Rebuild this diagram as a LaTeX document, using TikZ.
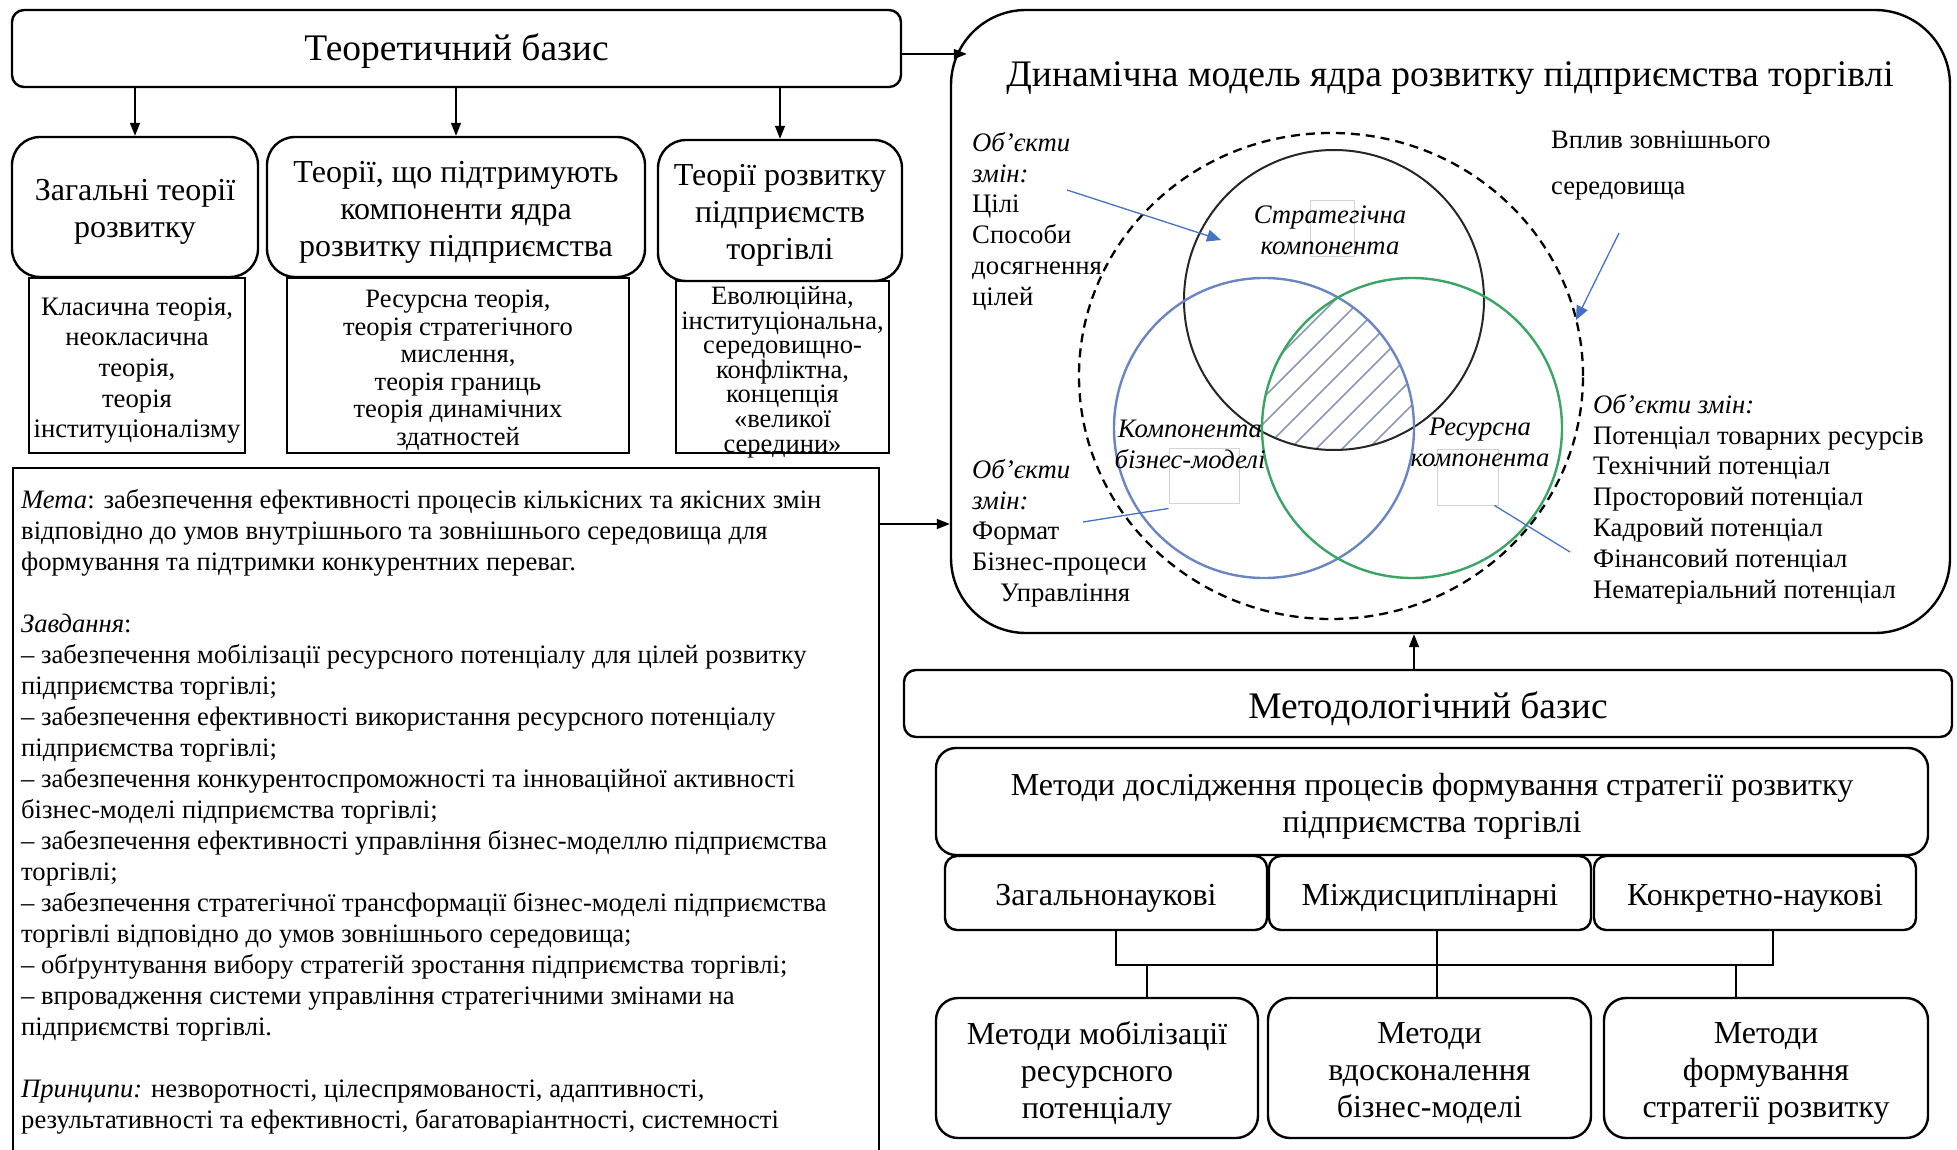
\documentclass[tikz,border=0pt]{standalone}
\usepackage{fontspec}
\setmainfont{Liberation Serif}
\usetikzlibrary{arrows.meta}
\definecolor{accblue}{HTML}{4472C4}
\definecolor{ringblue}{HTML}{6A86C2}
\definecolor{ringgreen}{HTML}{3AA463}
\definecolor{hatchcol}{HTML}{8C98B8}
\definecolor{ghost}{HTML}{D2D2D2}
\newcommand{\fsz}[2]{\fontsize{#1}{#2}\selectfont}
\begin{document}
\begin{tikzpicture}[x=1pt,y=-1pt,
  frame/.style={draw, line width=2.4pt, inner sep=0pt},
  btext/.style={inner sep=0pt, align=center, yshift=-5pt},
  link/.style={line width=1.4pt, -{Triangle[length=13pt,width=10pt]}},
  wire/.style={line width=1.2pt},
  bluearrow/.style={accblue, line width=1.3pt, -{Triangle[length=14pt,width=12pt]}},
  blueline/.style={accblue, line width=1.3pt},
  ghostbox/.style={draw=ghost, line width=0.9pt, inner sep=0pt},
  plain/.style={inner sep=0pt, align=left},
  headfont/.style={font=\fsz{37.5}{43}},
  boxfont/.style={font=\fsz{32}{37}},
  listfont/.style={font=\fsz{26.7}{30.8}},
]
\clip (0,0) rectangle (1957,1150);

% ---------- theoretical basis ----------
\node[frame, rounded corners=12pt, minimum width=889pt, minimum height=77pt] (theory) at (456.5,48.5) {};
\node[btext, headfont, yshift=2pt] (theory-t) at (theory) {Теоретичний базис};

\node[frame, rounded corners=28pt, minimum width=246pt, minimum height=140pt] (gen) at (135,207) {};
\node[btext, boxfont] (gen-t) at (gen) {Загальні теорії\\розвитку};
\node[frame, rounded corners=28pt, minimum width=378pt, minimum height=140pt] (sup) at (456,207) {};
\node[btext, boxfont] (sup-t) at (sup) {Теорії, що підтримують\\компоненти ядра\\розвитку підприємства};
\node[frame, rounded corners=28pt, minimum width=244pt, minimum height=141pt] (trade) at (780,210.5) {};
\node[btext, boxfont] (trade-t) at (trade) {Теорії розвитку\\підприємств\\торгівлі};

\node[frame, minimum width=216pt, minimum height=175pt] (genlist) at (137,365.5) {};
\node[btext, font=\fsz{26.7}{30.7}] (genlist-t) at (genlist)
  {Класична теорія,\\неокласична\\теорія,\\теорія\\інституціоналізму};
\node[frame, minimum width=342pt, minimum height=175pt] (suplist) at (458,365.5) {};
\node[btext, font=\fsz{26.5}{27.5}] (suplist-t) at (suplist)
  {Ресурсна теорія,\\теорія стратегічного\\мислення,\\теорія границь\\теорія динамічних\\здатностей};
\node[frame, minimum width=213pt, minimum height=172pt] (tradelist) at (782.5,367) {};
\node[btext, font=\fsz{26.5}{24.6}] (tradelist-t) at (tradelist)
  {Еволюційна,\\інституціональна,\\середовищно-\\конфліктна,\\концепція\\«великої\\середини»};

\draw[link] (theory.south -| gen.north) -- (gen.north);
\draw[link] (theory.south -| sup.north) -- (sup.north);
\draw[link] (theory.south -| trade.north) -- (trade.north);

% ---------- goals, tasks, principles ----------
\node[frame, minimum width=866pt, minimum height=740pt, anchor=north west] (goals) at (12,467) {};
\node[plain, anchor=north west, font=\fsz{26.6}{31}] (goaltext) at (21,489)
 {\textit{Мета}: забезпечення ефективності процесів кількісних та якісних змін\\
  відповідно до умов внутрішнього та зовнішнього середовища для\\
  формування та підтримки конкурентних переваг.\\[31pt]
  \textit{Завдання}:\\
  – забезпечення мобілізації ресурсного потенціалу для цілей розвитку\\
  підприємства торгівлі;\\
  – забезпечення ефективності використання ресурсного потенціалу\\
  підприємства торгівлі;\\
  – забезпечення конкурентоспроможності та інноваційної активності\\
  бізнес-моделі підприємства торгівлі;\\
  – забезпечення ефективності управління бізнес-моделлю підприємства\\
  торгівлі;\\
  – забезпечення стратегічної трансформації бізнес-моделі підприємства\\
  торгівлі відповідно до умов зовнішнього середовища;\\
  – обґрунтування вибору стратегій зростання підприємства торгівлі;\\
  – впровадження системи управління стратегічними змінами на\\
  підприємстві торгівлі.\\[31pt]
  \textit{Принципи:} незворотності, цілеспрямованості, адаптивності,\\
  результативності та ефективності, багатоваріантності, системності};

% ---------- dynamic model ----------
\node[frame, rounded corners=75pt, minimum width=999pt, minimum height=623pt] (model) at (1450.5,321.5) {};
\node[plain, headfont] (modeltitle) at (1450,78) {Динамічна модель ядра розвитку підприємства торгівлі};

\coordinate (goalout) at (0,524);
\draw[link] ([yshift=-5.5pt]theory.east) -- ([yshift=-5.5pt,xshift=17pt]theory.east -| model.west);
\draw[link] (goals.east |- goalout) -- (model.west |- goalout);

% leftover text-box outlines
\node[ghostbox, minimum width=44pt, minimum height=56pt] (gA) at (1332,228) {};
\node[ghostbox, minimum width=70pt, minimum height=55pt] (gB) at (1204,475.5) {};
\node[ghostbox, minimum width=61pt, minimum height=56pt] (gC) at (1467.5,477) {};

% core: triple intersection hatched
\begin{scope}
  \clip (1334,300) circle (150pt);
  \clip (1264,428) circle (150pt);
  \clip (1412,428) circle (150pt);
  \foreach \k in {1505,1531,...,1900}
    \draw[hatchcol, line width=1.5pt] (1150,{\k-1150}) -- (1550,{\k-1550});
\end{scope}

\draw[line width=2.3pt, dash pattern=on 9pt off 6pt] (1331,376) ellipse [x radius=252pt, y radius=243pt];
\draw[black!85, line width=2pt] (1334,300) circle (150pt);
\draw[ringblue, line width=2.4pt] (1264,428) circle (150pt);
\draw[ringgreen, line width=2.4pt] (1412,428) circle (150pt);

\node[plain, align=center, font=\fsz{26.7}{31}\itshape] (strat) at (1330,230) {Стратегічна\\компонента};
\node[plain, align=center, font=\fsz{26.7}{31}\itshape] (bmod) at (1190,444) {Компонента\\бізнес-моделі};
\node[plain, align=center, font=\fsz{26.7}{31}\itshape] (res) at (1480,442) {Ресурсна\\компонента};

\node[plain, anchor=north west, listfont] (objstrat) at (972,132)
  {\textit{Об’єкти}\\\textit{змін:}\\Цілі\\Способи\\досягнення\\цілей};
\node[plain, anchor=north west, listfont] (objbm) at (972,459)
  {\textit{Об’єкти}\\\textit{змін:}\\Формат\\Бізнес-процеси\\\hspace*{28pt}Управління};
\node[plain, anchor=north west, listfont] (objres) at (1593,394)
  {\textit{Об’єкти змін:}\\Потенціал товарних ресурсів\\Технічний потенціал\\Просторовий потенціал\\Кадровий потенціал\\Фінансовий потенціал\\Нематеріальний потенціал};
\node[plain, anchor=north west, font=\fsz{26.5}{46}] (env) at (1551,131)
  {Вплив зовнішнього\\середовища};

\coordinate (stratfrom) at (1067,190);
\coordinate (stratto) at (1221,240);
\coordinate (envfrom) at (1619,233);
\coordinate (envto) at (1576,320);
\coordinate (bmfrom) at (1083,522);
\coordinate (resto) at (1570,552);
\draw[bluearrow] (stratfrom) -- (stratto);
\draw[bluearrow] (envfrom) -- (envto);
\draw[blueline] (bmfrom) -- ([yshift=-5pt]gB.south west);
\draw[blueline] ([xshift=-4pt]gC.south east) -- (resto);

% ---------- methodological basis ----------
\node[frame, rounded corners=12pt, minimum width=1048pt, minimum height=67pt] (meth) at (1428,703.5) {};
\node[btext, headfont] (meth-t) at (meth) {Методологічний базис};
\draw[link] ([xshift=-14pt]meth.north) -- ([xshift=-14pt]meth.north |- model.south);

\node[frame, rounded corners=20pt, minimum width=992pt, minimum height=107pt] (research) at (1432,801.5) {};
\node[btext, boxfont] (research-t) at (research)
  {Методи дослідження процесів формування стратегії розвитку\\підприємства торгівлі};

\node[frame, rounded corners=12pt, minimum width=322pt, minimum height=74pt] (gensci) at (1106,893) {};
\node[btext, boxfont] (gensci-t) at (gensci) {Загальнонаукові};
\node[frame, rounded corners=12pt, minimum width=322pt, minimum height=74pt] (interd) at (1430,893) {};
\node[btext, boxfont] (interd-t) at (interd) {Міждисциплінарні};
\node[frame, rounded corners=12pt, minimum width=322pt, minimum height=74pt] (specsci) at (1755,893) {};
\node[btext, boxfont] (specsci-t) at (specsci) {Конкретно-наукові};

\node[frame, rounded corners=22pt, minimum width=322pt, minimum height=140pt] (mob) at (1097,1068) {};
\node[btext, boxfont] (mob-t) at (mob) {Методи мобілізації\\ресурсного\\потенціалу};
\node[frame, rounded corners=22pt, minimum width=323pt, minimum height=140pt] (impr) at (1429.5,1068) {};
\node[btext, boxfont] (impr-t) at (impr) {Методи\\вдосконалення\\бізнес-моделі};
\node[frame, rounded corners=22pt, minimum width=324pt, minimum height=140pt] (form) at (1766,1068) {};
\node[btext, boxfont] (form-t) at (form) {Методи\\формування\\стратегії розвитку};

\coordinate (barlevel) at (0,965);
\draw[wire] ([xshift=10pt]gensci.south) |- ([xshift=18pt]specsci.south |- barlevel) -- ([xshift=18pt]specsci.south);
\draw[wire] ([xshift=7pt]interd.south) -- ([xshift=7pt]interd.south |- impr.north);
\draw[wire] ([xshift=50pt]mob.north) -- ([xshift=50pt]mob.north |- barlevel);
\draw[wire] ([xshift=-30pt]form.north) -- ([xshift=-30pt]form.north |- barlevel);
\end{tikzpicture}
\end{document}
